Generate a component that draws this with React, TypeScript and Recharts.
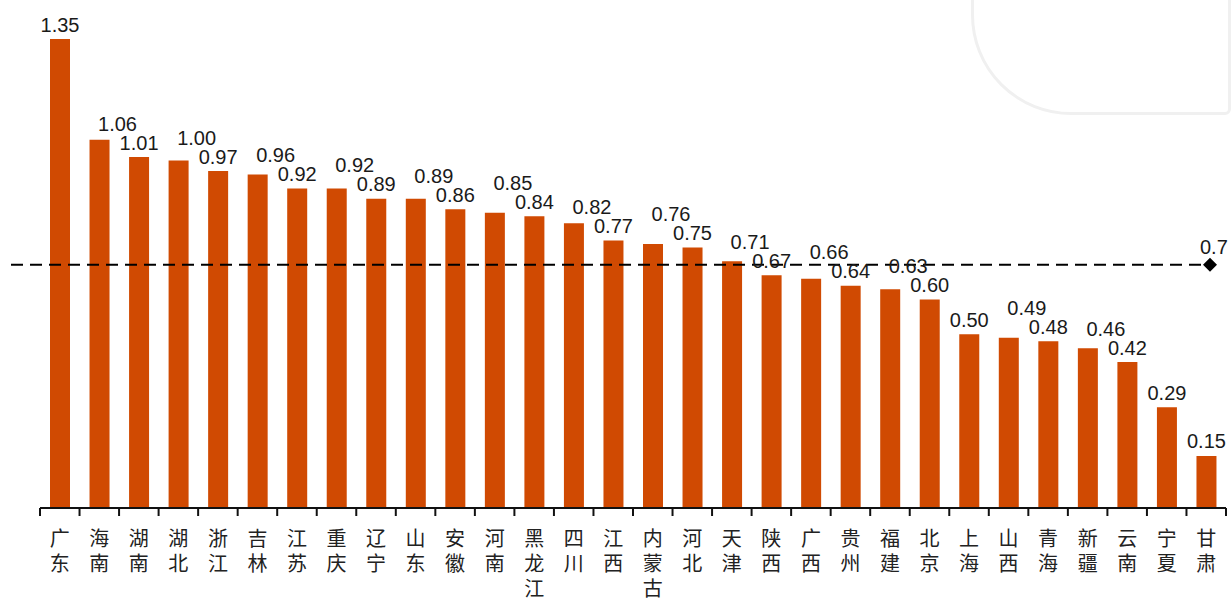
import React from 'react';
import { BarChart, Bar, XAxis, YAxis, ReferenceLine, LabelList } from 'recharts';

const provinces = ['广东', '海南', '湖南', '湖北', '浙江', '吉林', '江苏', '重庆', '辽宁', '山东', '安徽', '河南', '黑龙江', '四川', '江西', '内蒙古', '河北', '天津', '陕西', '广西', '贵州', '福建', '北京', '上海', '山西', '青海', '新疆', '云南', '宁夏', '甘肃'];
const ratios = [1.35, 1.06, 1.01, 1.0, 0.97, 0.96, 0.92, 0.92, 0.89, 0.89, 0.86, 0.85, 0.84, 0.82, 0.77, 0.76, 0.75, 0.71, 0.67, 0.66, 0.64, 0.63, 0.6, 0.5, 0.49, 0.48, 0.46, 0.42, 0.29, 0.15];
const referenceValue = 0.7;
const referenceLabel = '0.7';
const yDomain: [number, number] = [0, 1.35];

const data = provinces.map((name, i) => ({ name, value: ratios[i] }));

const BAR_COLOR = '#D04A02';
const NUM_FONT = '"Liberation Sans", Arial, sans-serif';
const CJK_FONT = '"Noto Sans CJK SC", "Noto Sans", sans-serif';

const LABEL_GAP = 14.5; // label centre above bar top
const LABEL_STEP = 19; // vertical spacing when labels collide
const LABEL_SHIFT = 18; // horizontal nudge for a pushed label

// simple right-to-left collision layout for the value labels, in pixels
let cachedLayout: { k: number; items: { dy: number; shifted: boolean }[] } | null = null;
function getLayout(k: number) {
  if (cachedLayout && Math.abs(cachedLayout.k - k) < 1e-6) return cachedLayout.items;
  const n = ratios.length;
  const items: { dy: number; shifted: boolean }[] = new Array(n);
  for (let i = n - 1; i >= 0; i--) {
    let dy = -LABEL_GAP;
    let shifted = false;
    if (i < n - 1 && !items[i + 1].shifted) {
      const own = -ratios[i] * k + dy;
      const nb = -ratios[i + 1] * k + items[i + 1].dy;
      if (Math.abs(own - nb) < 18.5) {
        dy = nb - LABEL_STEP + ratios[i] * k;
        shifted = true;
      }
    }
    items[i] = { dy, shifted };
  }
  cachedLayout = { k, items };
  return items;
}

const ValueLabel = (props: any) => {
  const vb = props.viewBox || {};
  const x = props.x ?? vb.x;
  const y = props.y ?? vb.y;
  const width = props.width ?? vb.width;
  const height = props.height ?? vb.height;
  const index = props.index;
  const value = Number(props.value);
  if (x == null || y == null || !value) return null;
  const k = height / value;
  const items = getLayout(k);
  const it = items[index] || { dy: -LABEL_GAP, shifted: false };
  const cx = x + width / 2 + (it.shifted ? LABEL_SHIFT : 0);
  const cy = y + it.dy;
  return (
    <text x={cx} y={cy + 7} textAnchor="middle" fontSize={20} fontFamily={NUM_FONT} fill="#1a1a1a">
      {value.toFixed(2)}
    </text>
  );
};

const ProvinceTick = (props: any) => {
  const { x, y, payload, index } = props;
  const half = payload && payload.offset ? payload.offset : (props.width || 1186) / provinces.length / 2;
  const chars = Array.from(String(payload.value));
  const isLast = index === provinces.length - 1;
  return (
    <g>
      <line x1={x - half} x2={x - half} y1={y - 8} y2={y} stroke="#111" strokeWidth={2} />
      {isLast && <line x1={x + half} x2={x + half} y1={y - 8} y2={y} stroke="#111" strokeWidth={2} />}
      <text x={x} y={y + 30} textAnchor="middle" fontSize={20} fontFamily={CJK_FONT} fill="#222">
        {chars.map((c, i) => (
          <tspan key={i} x={x} dy={i === 0 ? 0 : 25}>
            {c}
          </tspan>
        ))}
      </text>
    </g>
  );
};

const RefShape = (p: any) => {
  const { x1, y1, x2 } = p;
  if (x1 == null) return null;
  const left = x1 - 29;
  const right = x2 - 16;
  return (
    <g>
      <line x1={left} x2={right} y1={y1} y2={y1} stroke="#000" strokeWidth={2} strokeDasharray="12 7" />
      <path d={`M${right},${y1 - 7}L${right + 7},${y1}L${right},${y1 + 7}L${right - 7},${y1}Z`} fill="#000" />
      <text x={right - 10} y={y1 - 11} fontSize={20} fontFamily={NUM_FONT} fill="#1a1a1a">
        {referenceLabel}
      </text>
    </g>
  );
};

export default function App() {
  return (
    <div style={{ position: 'fixed', left: 0, top: 0, width: 1231, height: 599, overflow: 'hidden', background: '#fff' }}>
      <div
        style={{
          position: 'absolute',
          left: 971,
          top: -92,
          width: 260,
          height: 207,
          boxSizing: 'border-box',
          border: '3px solid #f0f0f0',
          borderRadius: '0 0 6px 100px',
        }}
      />
      <BarChart width={1231} height={599} data={data} margin={{ top: 39, right: 5, bottom: 0, left: 40 }}>
        <YAxis hide domain={yDomain} type="number" />
        <XAxis
          dataKey="name"
          interval={0}
          height={91}
          tickSize={8}
          tickMargin={0}
          tickLine={false}
          axisLine={{ stroke: '#111', strokeWidth: 2 }}
          tick={<ProvinceTick />}
        />
        <Bar dataKey="value" fill={BAR_COLOR} barSize={20} isAnimationActive={false}>
          <LabelList dataKey="value" content={<ValueLabel />} />
        </Bar>
        <ReferenceLine y={referenceValue} ifOverflow="visible" shape={<RefShape />} />
      </BarChart>
    </div>
  );
}
